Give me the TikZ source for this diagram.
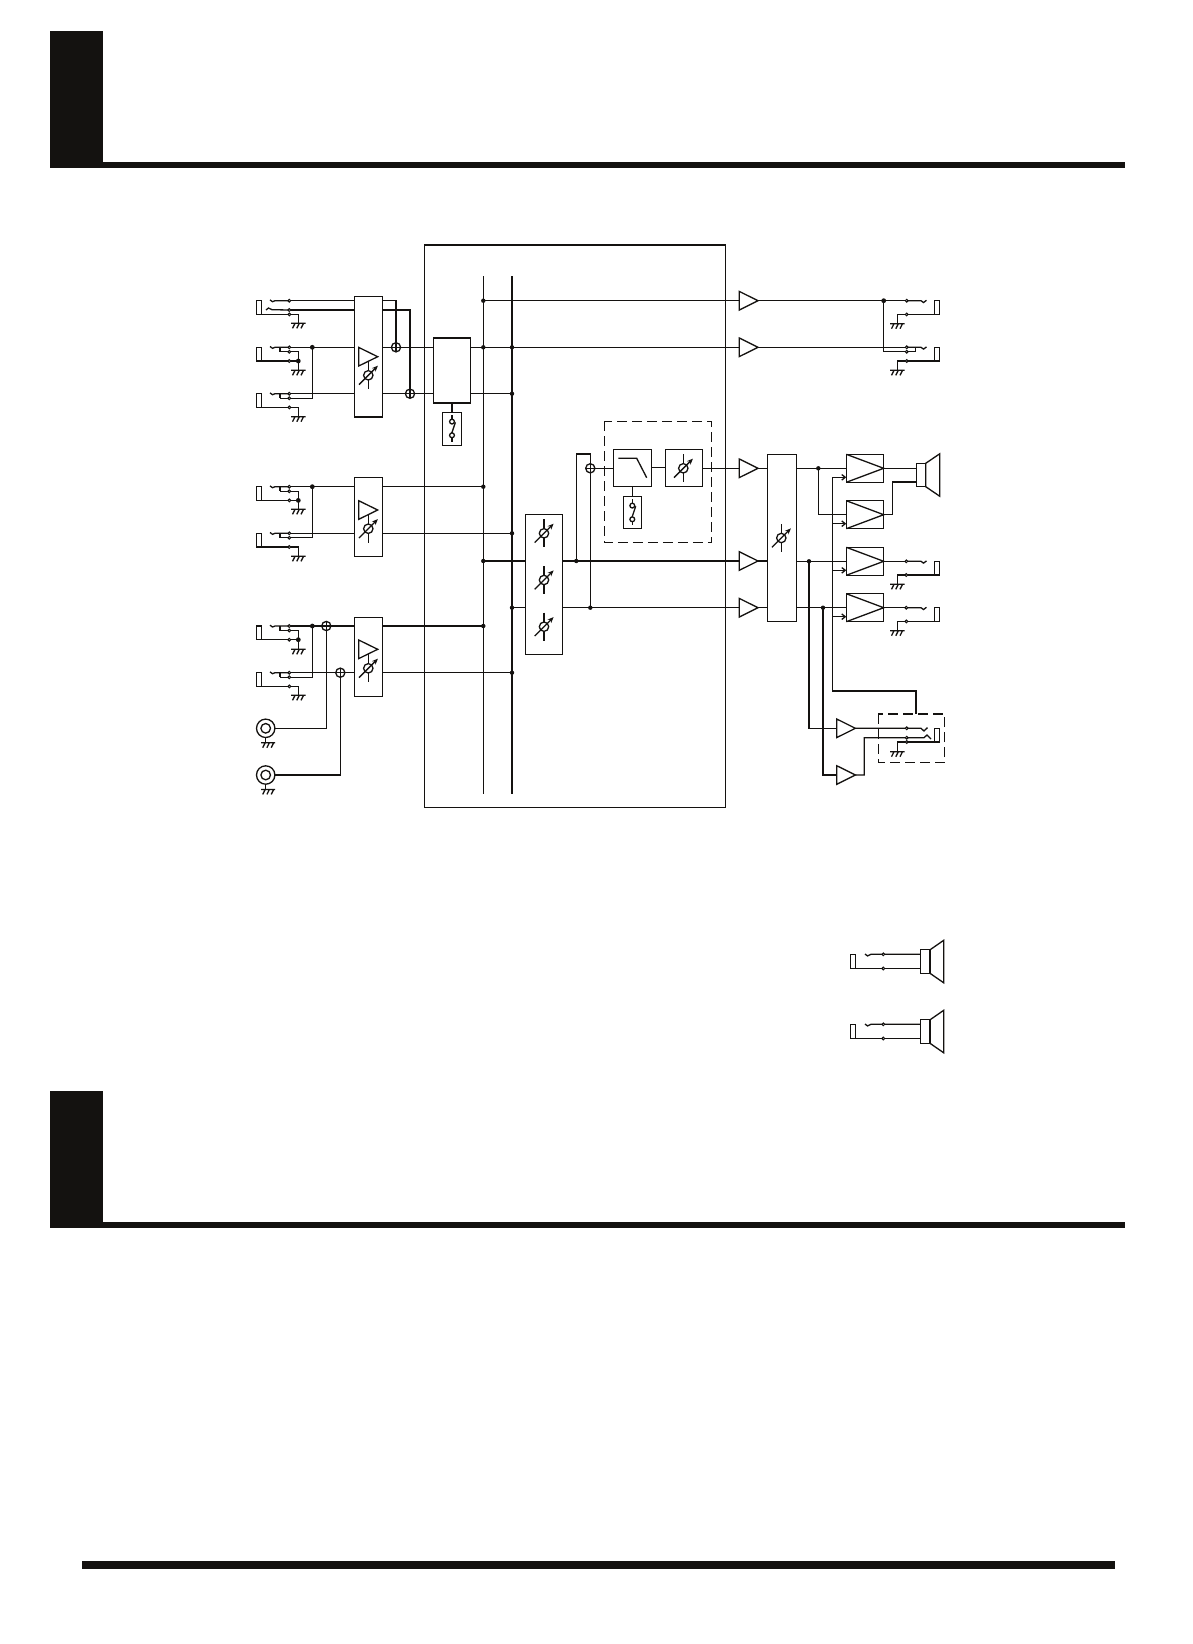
\documentclass[tikz,border=0pt]{standalone}
\usetikzlibrary{arrows.meta,calc}
\definecolor{ink}{RGB}{20,18,16}
\tikzset{
  wire/.style={line width=1.3pt,line join=miter,draw=ink},
  boxst/.style={draw=ink,line width=1.3pt,fill=white,inner sep=0pt,outer sep=0pt},
  bus/.style={draw=ink,line width=1.4pt},
  thickbus/.style={draw=ink,line width=2.8pt},
  dash box/.style={draw=ink,line width=1.2pt,dash pattern=on 10pt off 5pt},
  bar/.style={fill=ink,draw=none},
}
% filled junction, open terminal, open summing point
\newcommand\jn[1]{\fill[ink] (#1) circle (2.2);}
\newcommand\bigjn[1]{\fill[ink] (#1) circle (2.4);}
\newcommand\tm[1]{\draw[wire,fill=white,line width=1pt] (#1) circle (1.4);}
\newcommand\bx[5]{%
  \pgfmathsetmacro\bw{#4-#2}\pgfmathsetmacro\bh{#5-#3}%
  \pgfmathsetmacro\bcx{(#4+#2)/2}\pgfmathsetmacro\bcy{(#5+#3)/2}%
  \node[boxst,minimum width=\bw pt,minimum height=\bh pt] (#1) at (\bcx,\bcy) {};}
\newcommand\sumpt[2]{\coordinate (#1) at (#2);
  \draw[wire,fill=white] (#1) circle (4.6);
  \draw[wire] ([xshift=-4.6pt]#1) -- ([xshift=4.6pt]#1) ([yshift=-4.6pt]#1) -- ([yshift=4.6pt]#1);}
\newcommand\gnd[2]{% x y of top of the ground symbol
  \begin{scope}[shift={(#1,#2)}]
    \draw[wire] (-7.3,0) -- (7.3,0) (-3.3,0) -- (-5.8,5) (1,0) -- (-1.5,5) (5.2,0) -- (2.7,5);
  \end{scope}}
\newcommand\pot[2]{%
  \begin{scope}[shift={(#1,#2)}]
    \draw[wire] (0,-14) -- (0,14);
    \draw[wire,fill=white] (0,0) circle (4.7);
    \draw[wire,-{Stealth[length=6pt,width=5pt]}] (-9.3,9.3) -- (9.6,-9.6);
  \end{scope}}
\newcommand\amp[3]{% name, left x, y
  \coordinate (#1i) at (#2,#3);
  \coordinate (#1o) at ($(#2,#3)+(18.7,0)$);
  \draw[wire,fill=white] (#2,#3) ++(0,-9.3) -- ++(0,18.6) -- ++(18.7,-9.3) -- cycle;}
\newcommand\ljack[2]{% left-hand socket: name, y of tip line
  \coordinate (#1t) at (289.3,#2);
  \coordinate (#1p) at (256.7,#2+13.7);
  \coordinate (#1b) at (289.3,#2+13.7);
  \draw[wire] (256.7,#2) rectangle (261.7,#2+13.7);
  \draw[wire] (270,#2-.8) -- (272.5,#2+1) -- (275,#2) -- (#1t);
  \draw[wire] (#1p) -- (#1b);}
\newcommand\ljackb[1]{% normalling contact of a left socket, 4.5 below tip line
  \coordinate (#1s) at ($(#1t)+(0,4.5)$);
  \draw[wire] (280,0 |- #1t) -- (280,0 |- #1s);}
\newcommand\rjack[3]{% right-hand socket: name, dot x, y of tip line
  \coordinate (#1t) at (#2,#3);
  \coordinate (#1b) at (#2,#3+13.7);
  \draw[wire] (934.3,#3) rectangle (939.7,#3+13.7);
  \draw[wire] (#1t) -- (921,#3) -- (923.5,#3+1.8) -- (926.5,#3-.4);
  \draw[wire] (939.7,#3+13.7) -- (#1b) -- (897.3,#3+13.7) -- (897.3,#3+23);
  \gnd{897.3}{#3+23}}
\newcommand\speaker[5]{% box x1 x2, y1 y2, cone x ; cone overhang fixed
  \draw[wire] (#2,#3) -- (#5,#3-9.5) -- (#5,#4+9.5) -- (#2,#4) -- cycle;
  \draw[wire,fill=white] (#1,#3) rectangle (#2,#4);}
\newcommand\swbox[5]{%
  \bx{#1}{#2}{#3}{#4}{#5}
  \pgfmathsetmacro\scx{(#2+#4)/2}
  \draw[wire] (\scx,#3+3) -- (\scx,#3+6.3);
  \draw[wire] (\scx,#3+19.7) -- (\scx,#5-3);
  \draw[wire] (\scx+3.4,#3+10) -- (\scx-.6,#3+22);
  \draw[wire,fill=white] (\scx,#3+9.3) circle (2.4);
  \draw[wire,fill=white] (\scx,#3+23) circle (2.4);}
\newcommand\pamp[3]{% name, y1, y2
  \bx{#1}{846.3}{#2}{883.7}{#3}
  \draw[wire] (#1.north west) -- (#1.east) -- (#1.south west);}
\begin{document}
\begin{tikzpicture}[x=1pt,y=-1pt]
\useasboundingbox (0,0) rectangle (1192,1644);
\fill[white] (0,0) rectangle (1192,1644);
% page furniture
\fill[bar] (50,31) rectangle (103,168);
\fill[bar] (50,162) rectangle (1125,168);
\fill[bar] (50,1091) rectangle (103,1228);
\fill[bar] (50,1222) rectangle (1125,1228);
\fill[bar] (82,1561) rectangle (1115,1569);

% main outline and busses
\node[draw=ink,line width=1.3pt,minimum width=301.5pt,minimum height=562.3pt,inner sep=0] (mainbox) at (575,526.2) {};
\coordinate (busAt) at (483.3,276); \coordinate (busAb) at (483.3,794);
\coordinate (busBt) at (512,276);   \coordinate (busBb) at (512,794);
\draw[bus] (busAt) -- (busAb);
\draw[thickbus] (busBt) -- (busBb);

% ---- input sockets
\ljack{ja}{300.7}
\coordinate (jas) at (289.3,310);
\draw[wire] (266,310) -- (268.5,308) -- (272,309.7) -- (jas);
\ljack{jb}{347.3}\ljackb{jb}
\ljack{jc}{393.7}\ljackb{jc}
\ljack{jd}{486.7}\ljackb{jd}
\ljack{je}{533.3}\ljackb{je}
\ljack{jf}{626}\ljackb{jf}
\ljack{jg}{672.7}\ljackb{jg}

% ground legs
\draw[wire] (jab) -- (298.3,314.4) -- (298.3,323.3); \gnd{298.3}{323.3}
\draw[wire] (jbs) -| (298.3,370.3); \draw[wire] (jbb) -- (298.3,361); \gnd{298.3}{370.3}
\draw[wire] (jcb) -- (298.3,407.4) -- (298.3,416.7); \gnd{298.3}{416.7}
\draw[wire] (jds) -| (298.3,509.3); \draw[wire] (jdb) -- (298.3,500.4); \gnd{298.3}{509.3}
\draw[wire] (jeb) -- (298.3,547) -- (298.3,556.3); \gnd{298.3}{556.3}
\draw[wire] (jfs) -| (298.3,649.3); \draw[wire] (jfb) -- (298.3,639.7); \gnd{298.3}{649.3}
\draw[wire] (jgb) -- (298.3,686.4) -- (298.3,695.3); \gnd{298.3}{695.3}

% left stub to normalling contact
\foreach \n in {jb,jc,jd,je,jf,jg}{\draw[wire] (280,0 |- \n s) -- (\n s);}
% join of paired sockets
\coordinate (lr1) at (312.3,347.3);
\coordinate (lr2) at (312.3,486.7);
\coordinate (lr3) at (312.3,626);
\draw[wire] (jcs) -| (lr1);
\draw[wire] (jes) -| (lr2);
\draw[wire] (jgs) -| (lr3);

% ---- input channel boxes
\bx{ba}{354.3}{296.3}{382.3}{417}
\bx{bb}{354.3}{477.3}{382.3}{556.3}
\bx{bc}{354.3}{617.3}{382.3}{696.3}
\draw[wire] (jat) -- (jat -| ba.west);
\draw[wire] (jas) -- (jas -| ba.west);
\draw[wire] (jbt) -- (jbt -| ba.west);
\draw[wire] (jct) -- (jct -| ba.west);
\draw[wire] (jdt) -- (jdt -| bb.west);
\draw[wire] (jet) -- (jet -| bb.west);
% triangles and pots inside channels
\foreach \ty/\py in {356.7/375.3,510/528.7,649.3/668.3}{
  \pot{368.3}{\py}
  \draw[wire,fill=white] (358.7,\ty-9.3) -- (358.7,\ty+9.3) -- (377.7,\ty) -- cycle;}

% channel 1 outputs with summing points
\bx{fx}{433.3}{338}{470.7}{403}
\coordinate (sa) at (396,347.3); \coordinate (sb) at (410,393.7);
\draw[wire] (jat -| ba.east) -| (sa);
\draw[wire] (jas -| ba.east) -| (sb);
\draw[wire] (sa -| ba.east) -- (sa -| fx.west);
\draw[wire] (sb -| ba.east) -- (sb -| fx.west);
\sumpt{sa}{396,347.3}
\sumpt{sb}{410,393.7}
% switch box under fx
\swbox{swa}{442.3}{412.3}{461.7}{445.3}
\draw[wire] (fx.south -| swa.north) -- (swa.north);

% onto the busses
\coordinate (ra) at (512,347.3);
\coordinate (rb) at (512,393.7);
\draw[wire] (sa -| fx.east) -- (ra);
\draw[wire] (sb -| fx.east) -- (rb);
\jn{sa -| busAt} \jn{ra} \jn{rb}

% channel 2, 3 outputs
\draw[wire] (jft) -- (jft -| bc.west);
\draw[wire] (jgt) -- (jgt -| bc.west);
\sumpt{sc}{326.3,626}
\sumpt{sd}{340.3,672.7}
\draw[wire] (jdt -| bb.east) -- (jdt -| busAt);
\draw[wire] (jet -| bb.east) -- (jet -| busBt);
\draw[wire] (jft -| bc.east) -- (jft -| busAt);
\draw[wire] (jgt -| bc.east) -- (jgt -| busBt);
\jn{jdt -| busAt} \jn{jet -| busBt} \jn{jft -| busAt} \jn{jgt -| busBt}
\bigjn{lr1} \bigjn{lr2} \bigjn{lr3}

% coaxial inputs
\coordinate (cxa) at (265.7,728.3);
\coordinate (cxb) at (265.7,775);
\foreach \c/\s in {cxa/sc,cxb/sd}{
  \draw[wire] ($(\c)+(9.2,0)$) -| ($(\s)+(0,4.6)$);
  \draw[wire] ($(\c)+(0,9)$) -- ($(\c)+(0,14.4)$);
  \draw[wire] (\c) circle (9.2) (\c) circle (4.8);
  \draw[wire] ($(\c)+(-4.6,14.4)$) -- ($(\c)+(9.4,14.4)$)
     ($(\c)+(-.5,14.4)$) -- ($(\c)+(-3,19.4)$)
     ($(\c)+(3.7,14.4)$) -- ($(\c)+(1.2,19.4)$)
     ($(\c)+(8,14.4)$) -- ($(\c)+(5.5,19.4)$);}

% terminals on left sockets
\foreach \n in {ja,jb,jc,jd,je,jf,jg}{\tm{\n t}\tm{\n b}}
\foreach \n in {ja,jb,jc,jd,je,jf,jg}{\tm{\n s}}
\bigjn{298.3,361} \bigjn{298.3,500.4} \bigjn{298.3,639.7}

% ---- mixer block
\coordinate (mxa) at (483.3,561);
\coordinate (mxb) at (512,607.7);
\bx{mix}{525.3}{514.3}{562.7}{654.3}
\draw[wire] (mxa) -- (mxa -| mix.west);
\draw[wire] (mxb) -- (mxb -| mix.west);
\jn{mxa} \jn{mxb}
\pot{544}{533.3} \pot{544}{580} \pot{544}{626.7}

% bus taps to output amps (row 1,2)
\amp{oa}{739.3}{300.7}
\amp{ob}{739.3}{347.3}
\coordinate (ta) at (483.3,300.7);
\draw[wire] (ta) -- (oai);
\jn{ta}
\draw[wire] (ra) -- (obi);

% filter section
\draw[dash box] (604.3,421.3) rectangle (711.7,542.7);
\bx{lpf}{613.3}{449.3}{651.7}{486.3}
\bx{vol}{665.3}{449.3}{702.7}{486.3}
\swbox{swb}{623.3}{496.3}{641.3}{528.3}
\draw[wire] (lpf.south -| swb.north) -- (swb.north);
\draw[wire] (618.3,458.3) -- (636.7,458.3) -- (646.7,477.7);
\pot{683.3}{468.3}
\draw[wire] (lpf) -- (vol);
\amp{oc}{739.3}{468.3}
\amp{od}{739.3}{561}
\amp{oe}{739.3}{607.7}
\draw[wire] (mix.east |- odi) -- (odi);
\draw[wire] (mix.east |- oei) -- (oei);
\draw[wire] (vol.east |- oci) -- (oci);
\coordinate (mj) at (576.3,561);
\coordinate (mk) at (590.3,607.7);
\coordinate (ms) at (590.3,468.3);
\draw[wire] (mj) |- (590.3,454) -- (ms);
\draw[wire] (mk) -- (ms);
\draw[wire] (ms) -- (lpf.west |- ms);
\sumpt{ms}{590.3,468.3}
\jn{mj} \jn{mk}

% ---- master block
\bx{mst}{767.3}{454.3}{796.7}{621.7}
\pot{781.3}{538}
\draw[wire] (oco) -- (oco -| mst.west);
\draw[wire] (odo) -- (odo -| mst.west);
\draw[wire] (oeo) -- (oeo -| mst.west);

% ---- top-right line outputs
\coordinate (lj) at (883.7,300.7);
\rjack{ra1}{906.7}{300.7}
\rjack{ra2}{906.7}{347.3}
\draw[wire] (oao) -- (ra1t);
\draw[wire] (obo) -- (ra2t);
\coordinate (ra2s) at (906.7,351.7);
\draw[wire] (lj) |- (ra2s) -- (915.7,351.7) -- (915.7,348);
\foreach \p in {ra1t,ra1b,ra2t,ra2s,ra2b}{\tm{\p}}
\bigjn{lj}

% ---- power amp stages
\coordinate (ctl) at (832.3,691);
\coordinate (cy1) at (832.3,477.3);
\draw[wire] (cy1) -- (ctl) -- (916,691) -- (916,714);
\pamp{pa}{454.3}{482.3}
\pamp{pb}{500.7}{528.7}
\pamp{pc}{547.3}{575.3}
\pamp{pd}{593.7}{621.7}
\tikzset{ctlarrow/.style={wire,-{Straight Barb[length=3.5pt,width=5.5pt]}}}
\draw[ctlarrow] (cy1) -- (846.3,477.3);
\draw[ctlarrow] (832.3,523.7) -- (846.3,523.7);
\draw[ctlarrow] (832.3,570.3) -- (846.3,570.3);
\draw[ctlarrow] (832.3,616.7) -- (846.3,616.7);

\coordinate (ma) at (818.3,468.3);
\coordinate (mb) at (809,561.3);
\coordinate (mc) at (823,607.7);
\draw[wire] (ma -| mst.east) -- (pa.west |- ma);
\draw[wire] (ma) |- (pb.west);
\draw[wire] (mb -| mst.east) -- (pc.west |- mb);
\draw[wire] (mc -| mst.east) -- (pd.west |- mc);
\jn{ma} \jn{mb} \jn{mc}

% speaker
\coordinate (spa) at (916.3,468.3);
\coordinate (spb) at (916.3,482);
\speaker{916.3}{925.7}{463.3}{486.7}{939.7}
\draw[wire] (pa.east) -- (spa);
\draw[wire] (pb.east) -- (892.3,514.7) -- (892.3,482) -- (spb);

% speaker outs
\rjack{rc}{906.3}{561.3}
\rjack{rd}{906.3}{607.7}
\draw[wire] (pc.east) -- (rct);
\draw[wire] (pd.east) -- (rdt);
\foreach \p in {rct,rcb,rdt,rdb}{\tm{\p}}

% ---- headphone section
\draw[dash box] (878.3,714) rectangle (944.7,762.3);
\amp{ha}{836.7}{728.3}
\amp{hb}{836.7}{775}
\draw[wire] (mb) |- (hai);
\draw[wire] (mc) |- (hbi);
\coordinate (hat) at (906.7,728.3);
\coordinate (has) at (906.7,737.7);
\coordinate (hab) at (906.7,742);
\draw[wire] (hao) -- (hat) -- (921,728.3) -- (924,731) -- (927.5,727.6);
\draw[wire] (hbo) -- (864.3,775) -- (864.3,737.7) -- (has) -- (924,737.7) -- (927,735) -- (931,739);
\draw[wire] (934.3,728.3) rectangle (939.7,742);
\draw[wire] (939.7,742) -- (hab) -- (897.3,742) -- (897.3,751.7);
\gnd{897.3}{751.7}
\foreach \p in {hat,has,hab}{\tm{\p}}

% ---- legend speakers
\foreach \yy in {954.3,1024.3}{
  \pgfmathsetmacro\yb{\yy+14.2}
  \pgfmathsetmacro\yc{\yy-4.5}
  \pgfmathsetmacro\yd{\yy+19}
  \draw[wire] (850.7,\yy) rectangle (855.7,\yb);
  \draw[wire] (850.7,\yb) -- (920.7,\yb);
  \draw[wire] (865,\yy-.3) -- (867.5,\yy+1.6) -- (871,\yy) -- (920.7,\yy);
  \speaker{920.7}{930}{\yc}{\yd}{943.7}
  \tm{883.3,\yy} \tm{883.3,\yb}
}
\end{tikzpicture}
\end{document}
